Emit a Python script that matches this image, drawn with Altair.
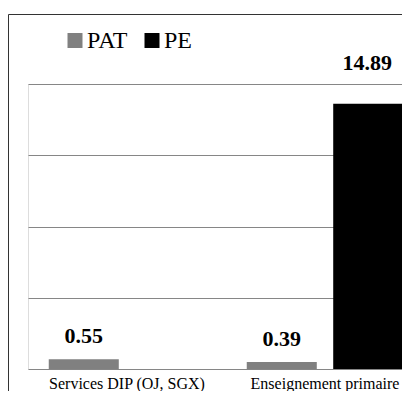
import altair as alt
import pandas as pd

categories = ["Services DIP (OJ, SGX)", "Enseignement primaire"]
series = ["PAT", "PE"]
pat_values = [0.55, 0.39]
pe_values = [None, 14.89]
colors = ["#808080", "#000000"]

rows = []
for cat, pat, pe in zip(categories, pat_values, pe_values):
    if pat is not None:
        rows.append({"category": cat, "series": "PAT", "value": pat})
    if pe is not None:
        rows.append({"category": cat, "series": "PE", "value": pe})
df = pd.DataFrame(rows)

FONT = "Times New Roman, Liberation Serif, serif"

x_enc = alt.X(
    "category:N",
    sort=categories,
    scale=alt.Scale(range=[0, 396], paddingInner=0, paddingOuter=0),
    axis=alt.Axis(
        title=None, labelAngle=0, ticks=False, domain=False,
        labelFont=FONT, labelFontSize=16, labelColor="#000000",
        labelBaseline="alphabetic", labelPadding=19,
    ),
)
xoff_enc = alt.XOffset(
    "series:N",
    sort=series,
    scale=alt.Scale(domain=series, paddingInner=0.19, paddingOuter=0.24),
)
y_enc = alt.Y(
    "value:Q",
    scale=alt.Scale(domain=[0, 16], nice=False, zero=True),
    axis=alt.Axis(
        title=None, labels=False, ticks=False, domain=False,
        values=[0, 4, 8, 12, 16], grid=True, gridColor="#868686", gridWidth=1,
    ),
)

base = alt.Chart(df)

bars = base.mark_bar().encode(
    x=x_enc,
    xOffset=xoff_enc,
    y=y_enc,
    color=alt.Color(
        "series:N",
        scale=alt.Scale(domain=series, range=colors),
        legend=alt.Legend(
            title=None, orient="none", direction="horizontal",
            legendX=35, legendY=-55.5,
            symbolType="square", symbolSize=225, symbolStrokeWidth=0,
            labelFont=FONT, labelFontSize=24, labelColor="#000000",
            labelOffset=0, columnPadding=12, padding=0,
        ),
    ),
)

small_labels = base.transform_filter("datum.value < 10").mark_text(
    font=FONT, fontWeight="bold", fontSize=22, baseline="alphabetic",
    dy=-16, color="#000000",
).encode(
    x=x_enc, xOffset=xoff_enc, y=y_enc,
    text=alt.Text("value:Q", format=".2f"),
)

big_labels = base.transform_filter("datum.value >= 10").mark_text(
    font=FONT, fontWeight="bold", fontSize=22, baseline="alphabetic",
    dy=-34, dx=-1, color="#000000",
).encode(
    x=x_enc, xOffset=xoff_enc, y=y_enc,
    text=alt.Text("value:Q", format=".2f"),
)

frame = alt.Chart(pd.DataFrame({"k": [0]})).mark_rect(
    fillOpacity=0, stroke="#333333", strokeWidth=1,
).encode(
    x=alt.value(-19.5), x2=alt.value(700),
    y=alt.value(-69.5), y2=alt.value(700),
)

chart = alt.layer(frame, bars, small_labels, big_labels).properties(
    width=374,
    height=285,
    autosize=alt.AutoSizeParams(type="none"),
    padding={"left": 20, "top": 76, "right": 0, "bottom": 22},
).configure_view(stroke=None).configure(background="#ffffff")

chart.save("out.html", embed_options={"renderer": "svg", "actions": False})
